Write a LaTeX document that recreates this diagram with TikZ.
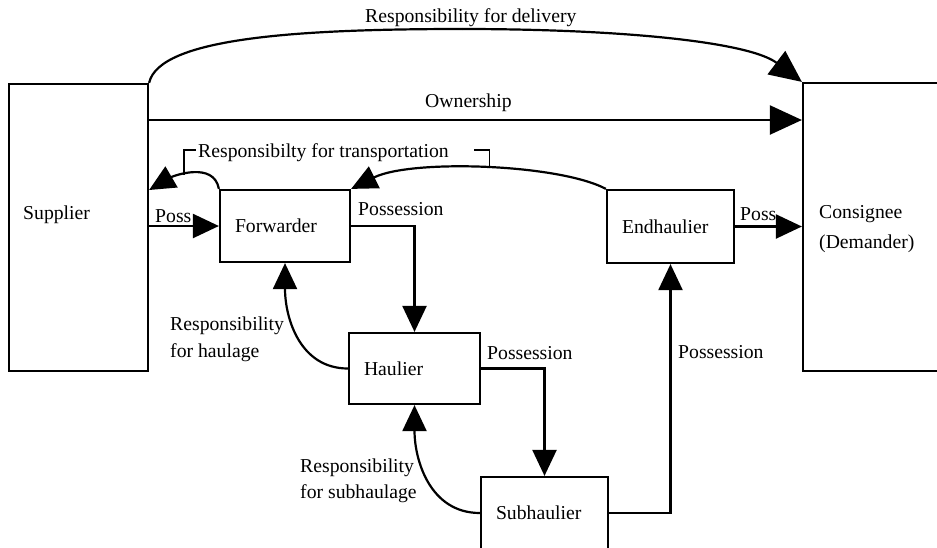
\documentclass[tikz,border=0pt]{standalone}
\usepackage{fontspec}
\setmainfont{Liberation Serif}
\usetikzlibrary{arrows.meta}
\begin{document}
\begin{tikzpicture}[x=1pt,y=-1pt,
  every node/.style={font=\fontsize{19.7}{24}\selectfont},
  ln/.style={line width=2.2pt},
  arr/.style={ln,-{Triangle[length=26pt,width=24pt]}},
  bigarr/.style={ln,-{Triangle[length=32pt,width=29pt]}},
  frame/.style={draw,line width=2.2pt,inner sep=0pt},
  box/.style={draw,line width=2.2pt,inner xsep=15pt,inner ysep=0pt,align=left},
  lbl/.style={inner sep=0pt,anchor=base west},
  brk/.style={line width=1.7pt}
]
\useasboundingbox (0,0) rectangle (937,547);
\fill[white] (0,0) rectangle (937,547);

% main frames
\node[frame,minimum width=139pt,minimum height=287pt] (sup) at (78.5,227.5) {};
\node[frame,minimum width=160pt,minimum height=288pt] (con) at (883,227) {};
\node[box,text width=100pt,minimum height=72pt] (fwd) at (285,226) {Forwarder};
\node[box,text width=97pt,minimum height=73pt] (end) at (670.5,226.5) {Endhaulier};
\node[box,text width=101pt,minimum height=71pt] (hau) at (414.5,368.5) {Haulier};
\node[box,text width=97pt,minimum height=72pt] (sub) at (544.5,513) {Subhaulier};

% texts
\node[lbl] (tsup) at (23,219) {Supplier};
\node[lbl] (tcon1) at (819,218) {Consignee};
\node[lbl] (tcon2) at (819,248) {(Demander)};
\node[lbl] (tdel) at (365,22) {Responsibility for delivery};
\node[lbl] (town) at (425,107) {Ownership};
\node[lbl] (ttra) at (198,157) {Responsibilty for transportation};
\node[lbl] (tp1) at (155,222) {Poss};
\node[lbl] (tp2) at (358,215) {Possession};
\node[lbl] (tp3) at (487,359) {Possession};
\node[lbl] (tp4) at (678,358) {Possession};
\node[lbl] (tp5) at (740,220) {Poss.};
\node[lbl] (th1) at (170,330) {Responsibility};
\node[lbl] (th2) at (170,357) {for haulage};
\node[lbl] (ts1) at (300,472) {Responsibility};
\node[lbl] (ts2) at (300,498) {for subhaulage};

% delivery arc
\coordinate (apex) at (462,29);
\draw[ln] (sup.north east) .. controls +(10,-45) and +(-165,0) .. (apex);
\draw[bigarr] (apex) .. controls +(160,0) and +(-53,-40) .. (con.north west);

% ownership
\draw[bigarr] (sup.east |- 0,120) -- (con.west |- 0,120);

% possession chain
\draw[arr] (sup.east |- fwd.west) -- (fwd.west);
\draw[arr] (fwd.east) -| (hau.north);
\draw[arr] (hau.east) -| (sub.north);
\draw[arr] (sub.east) -| (end.south);
\draw[arr] (end.east) -- (con.west |- end.east);

% responsibilities
\draw[arr] (hau.west) .. controls +(-48,0) and +(0,55) .. (fwd.south);
\draw[arr] (sub.west) .. controls +(-50,0) and +(0,55) .. (hau.south);
\draw[arr] (fwd.north west) .. controls +(-5,-28) and +(24,-14) .. (sup.east |- 0,190) coordinate[pos=0.58] (h1);
\draw[arr] (end.north west) .. controls +(-47,-25) and +(60,-30) .. (fwd.north east) coordinate[pos=0.48] (h2);

% bracket
\draw[brk] (h1) -- (h1 |- 0,150) -- (196,150);
\draw[brk] (h2) -- (h2 |- 0,150) -- ++(-15,0);
\end{tikzpicture}
\end{document}
